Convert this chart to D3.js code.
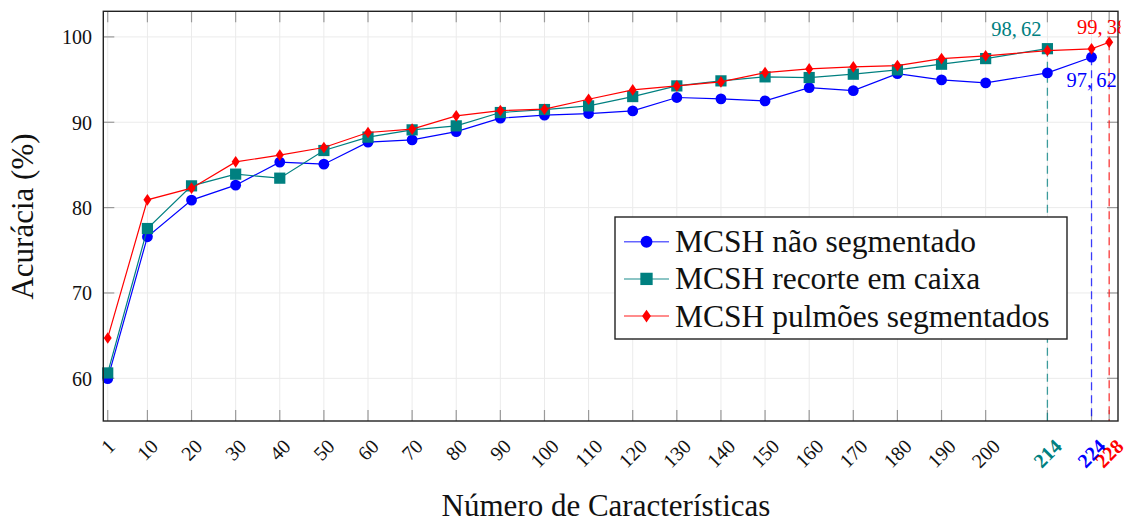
<!DOCTYPE html>
<html>
<head>
<meta charset="utf-8">
<script src="https://cdn.jsdelivr.net/npm/d3@7"></script>
<style>
  html, body { margin: 0; padding: 0; background: #fff; }
  svg { display: block; font-family: "Liberation Serif", "Times New Roman", serif; }
</style>
</head>
<body>
<svg id="chart" width="1127" height="522"></svg>
<script>
// Number of features evaluated for each descriptor variant
const baseCounts = [1, 10, 20, 30, 40, 50, 60, 70, 80, 90, 100, 110, 120, 130, 140, 150, 160, 170, 180, 190, 200];

const naoSegCounts = [...baseCounts, 214, 224];
const naoSegAcc = [59.96, 76.58, 80.88, 82.63, 85.33, 85.09, 87.67, 87.94, 88.91, 90.48, 90.83,
                   91.02, 91.33, 92.90, 92.74, 92.50, 94.06, 93.71, 95.70, 94.96, 94.61, 95.78, 97.62];

const recorteCounts = [...baseCounts, 214];
const recorteAcc = [60.63, 77.55, 82.55, 83.92, 83.45, 86.69, 88.26, 89.11, 89.58, 91.14, 91.49,
                    91.92, 93.01, 94.26, 94.85, 95.32, 95.24, 95.63, 96.14, 96.80, 97.46, 98.62];

const pulmoesCounts = [...baseCounts, 214, 224, 228];
const pulmoesAcc = [64.73, 80.91, 82.28, 85.36, 86.15, 87.04, 88.80, 89.19, 90.75, 91.37, 91.53,
                    92.70, 93.79, 94.26, 94.73, 95.82, 96.25, 96.49, 96.64, 97.46, 97.78, 98.40, 98.60, 99.38];

const seriesNames = ["MCSH não segmentado", "MCSH recorte em caixa", "MCSH pulmões segmentados"];
const yTickValues = [60, 70, 80, 90, 100];
// Feature count of the best result of each variant, in series order
const bestCounts = [224, 214, 228];

const svg = d3.select("#chart");
const margin = { left: 103.3, right: 1118, top: 11.3, bottom: 421 };

const x = d3.scaleLinear().domain([0, 230]).range([margin.left, margin.right]);
const y = d3.scaleLinear().domain([55, 103]).range([margin.bottom, margin.top]);

const BLUE = "#0000ff", TEAL = "#008080", RED = "#ff0000";

const series = [
  { name: seriesNames[0], xs: naoSegCounts, ys: naoSegAcc, color: BLUE, marker: "circle" },
  { name: seriesNames[1], xs: recorteCounts, ys: recorteAcc, color: TEAL, marker: "square" },
  { name: seriesNames[2], xs: pulmoesCounts, ys: pulmoesAcc, color: RED, marker: "diamond" }
];

const highlights = series.map((s, i) => ({
  count: bestCounts[i],
  acc: s.ys[s.xs.indexOf(bestCounts[i])],
  color: s.color
}));

const allXTicks = [...baseCounts, ...bestCounts.slice().sort((a, b) => a - b)];

// The figure's bounding box ends just right of the plot frame
svg.append("defs").append("clipPath").attr("id", "figure-box")
  .append("rect").attr("x", 0).attr("y", 0).attr("width", 1120.5).attr("height", 522);

// Grid
const grid = svg.append("g");
grid.selectAll("line.vx").data(allXTicks).join("line")
  .attr("x1", d => x(d)).attr("x2", d => x(d))
  .attr("y1", margin.top).attr("y2", margin.bottom)
  .attr("stroke", "#ebebeb").attr("stroke-width", 1);
grid.selectAll("line.hy").data(yTickValues).join("line")
  .attr("x1", margin.left).attr("x2", margin.right)
  .attr("y1", d => y(d)).attr("y2", d => y(d))
  .attr("stroke", "#ebebeb").attr("stroke-width", 1);

// Inner tick marks on all four sides
const TL = 11;
const ticks = svg.append("g").attr("stroke", "#9a9a9a").attr("stroke-width", 1.2);
ticks.selectAll("line.tb").data(allXTicks).join("line")
  .attr("x1", d => x(d)).attr("x2", d => x(d))
  .attr("y1", margin.bottom).attr("y2", margin.bottom - TL);
ticks.selectAll("line.tt").data(allXTicks).join("line")
  .attr("x1", d => x(d)).attr("x2", d => x(d))
  .attr("y1", margin.top).attr("y2", margin.top + TL);
ticks.selectAll("line.tl").data(yTickValues).join("line")
  .attr("x1", margin.left).attr("x2", margin.left + TL)
  .attr("y1", d => y(d)).attr("y2", d => y(d));
ticks.selectAll("line.tr").data(yTickValues).join("line")
  .attr("x1", margin.right).attr("x2", margin.right - TL)
  .attr("y1", d => y(d)).attr("y2", d => y(d));

// Dashed drop lines from the best result of each variant
svg.append("g").selectAll("line").data(highlights).join("line")
  .attr("x1", d => x(d.count)).attr("x2", d => x(d.count))
  .attr("y1", d => y(d.acc)).attr("y2", margin.bottom)
  .attr("stroke", d => d.color).attr("stroke-width", 1.3)
  .attr("stroke-dasharray", "8,5").attr("opacity", 0.75);

// Marker shapes
function drawMarker(sel, type, color, scale = 1) {
  if (type === "circle") {
    sel.append("circle").attr("r", 5.4 * scale).attr("fill", color);
  } else if (type === "square") {
    const h = 5.6 * scale;
    sel.append("rect").attr("x", -h).attr("y", -h).attr("width", 2 * h).attr("height", 2 * h).attr("fill", color);
  } else {
    const w = 4 * scale, h = 5.8 * scale;
    sel.append("path").attr("d", `M0,${-h}L${w},0L0,${h}L${-w},0Z`).attr("fill", color);
  }
}

const line = d3.line().x(d => x(d[0])).y(d => y(d[1]));

series.forEach(s => {
  const pts = s.xs.map((c, i) => [c, s.ys[i]]);
  const g = svg.append("g");
  g.append("path").attr("d", line(pts)).attr("fill", "none")
    .attr("stroke", s.color).attr("stroke-width", 1.2);
  pts.forEach(p => {
    const m = g.append("g").attr("transform", `translate(${x(p[0])},${y(p[1])})`);
    drawMarker(m, s.marker, s.color);
  });
});

// Frame
svg.append("rect")
  .attr("x", margin.left).attr("y", margin.top)
  .attr("width", margin.right - margin.left).attr("height", margin.bottom - margin.top)
  .attr("fill", "none").attr("stroke", "#222").attr("stroke-width", 1.4);

// Value labels for the best results
const fmt = v => d3.format(".2f")(v).replace(".", ",\u2009");
const labelOffsets = [
  { dx: 0, dy: 30, anchor: "middle" },
  { dx: -6, dy: -13, anchor: "end" },
  { dx: -7, dy: -8, anchor: "middle" }
];
svg.append("g").attr("clip-path", "url(#figure-box)")
  .selectAll("text").data(highlights).join("text")
  .attr("x", (d, i) => x(d.count) + labelOffsets[i].dx)
  .attr("y", (d, i) => y(d.acc) + labelOffsets[i].dy)
  .attr("text-anchor", (d, i) => labelOffsets[i].anchor)
  .attr("font-size", 20.5).attr("fill", d => d.color)
  .text(d => fmt(d.acc));

// Y tick labels
svg.append("g").selectAll("text").data(yTickValues).join("text")
  .attr("x", 92).attr("y", d => y(d) + 7.5)
  .attr("text-anchor", "end").attr("font-size", 20).attr("fill", "#111")
  .text(d => d);

// X tick labels, rotated 45 degrees with their top aligned below the axis
const xLabelTop = 438;
const xl = svg.append("g");
allXTicks.forEach(v => {
  const hi = highlights.find(h => h.count === v);
  const t = xl.append("text")
    .attr("font-size", 20)
    .attr("font-weight", hi ? "bold" : "normal")
    .attr("fill", hi ? hi.color : "#111")
    .attr("text-anchor", "middle")
    .attr("dominant-baseline", "central")
    .text(v);
  const w = t.node().getComputedTextLength();
  const h = 13.5;
  const cy = xLabelTop + (w + h) / (2 * Math.SQRT2);
  t.attr("transform", `translate(${x(v)},${cy}) rotate(-45)`);
});

// Axis titles
svg.append("text")
  .attr("transform", "translate(33,216.5) rotate(-90)")
  .attr("text-anchor", "middle").attr("font-size", 31).attr("fill", "#111")
  .text("Acurácia (%)");
svg.append("text")
  .attr("x", 606).attr("y", 516)
  .attr("text-anchor", "middle").attr("font-size", 31).attr("fill", "#111")
  .text("Número de Características");

// Legend
const legend = svg.append("g");
legend.append("rect")
  .attr("x", 615).attr("y", 217).attr("width", 452).attr("height", 122)
  .attr("fill", "#fff").attr("stroke", "#222").attr("stroke-width", 1.4);
series.forEach((s, i) => {
  const cy = 241.7 + i * 37.2;
  legend.append("line")
    .attr("x1", 624).attr("x2", 669).attr("y1", cy).attr("y2", cy)
    .attr("stroke", s.color).attr("stroke-width", 1.5).attr("opacity", 0.6);
  const m = legend.append("g").attr("transform", `translate(646.5,${cy})`);
  drawMarker(m, s.marker, s.color, 1.1);
  legend.append("text")
    .attr("x", 675).attr("y", cy + 10.5)
    .attr("font-size", 31.5).attr("fill", "#111")
    .text(s.name);
});
</script>
</body>
</html>
